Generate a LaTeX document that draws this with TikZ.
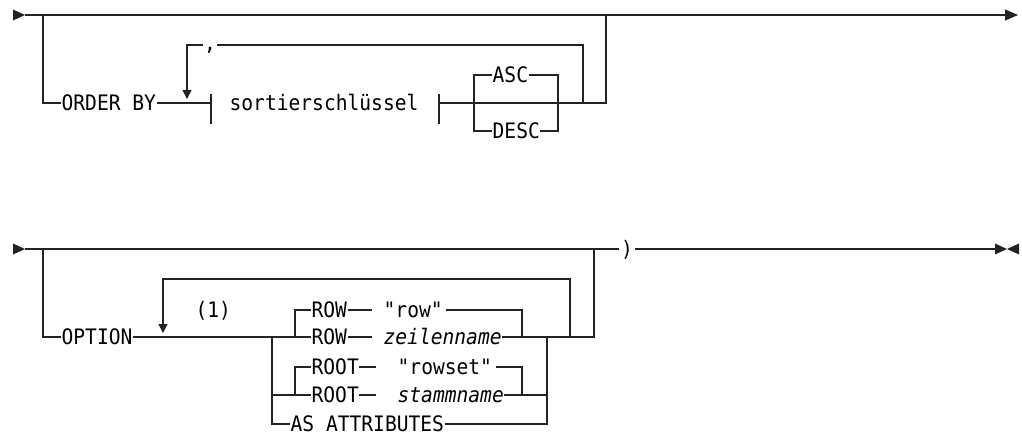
\documentclass[tikz,border=0pt]{standalone}
\usepackage{fontspec}
\newfontfamily\dmono[FakeStretch=0.92]{DejaVu Sans Mono}
\usetikzlibrary{arrows.meta}
\definecolor{ink}{RGB}{35,35,35}
\begin{document}
\begin{tikzpicture}[x=1pt,y=-1pt,line width=1.3pt,draw=ink,fill=ink,
  kw/.style={anchor=west,inner sep=0pt,font=\dmono\fontsize{21.3pt}{24pt}\selectfont,text height=15.5pt,text depth=0pt,text=black},
  var/.style={kw,font=\dmono\itshape\fontsize{21.3pt}{24pt}\selectfont},
  loopar/.style={-{Triangle[length=9pt,width=9pt]}},
  mainar/.style={-{Triangle[length=13pt,width=11pt]}}]
\useasboundingbox (0,0) rectangle (1022,434);
% ---------- top diagram ----------
\fill[ink] (13,9.5) -- (25,15) -- (13,20.5) -- cycle;
\coordinate (s1) at (25,15);
\coordinate (e1) at (1018,15);
\draw[mainar] (s1) -- (e1);
\node[kw] (order) at (61,103) {ORDER BY};
\draw (43,15) -- (43,103) -- (order.west);
\coordinate (t1) at (211,103);
\draw (order.east) -- (t1);
\draw (211,94) -- (211,124);
\node[kw] (sk) at (229,103) {sortierschlüssel};
\coordinate (t2) at (439,103);
\draw (439,94) -- (439,124);
\coordinate (j1) at (606,103);
\draw (t2) -- (j1) -- (606,15);
\node[kw] (asc) at (492,75) {ASC};
\node[kw] (desc) at (492,131) {DESC};
\draw (asc.west) -- (474,75) -- (474,131) -- (desc.west);
\draw (asc.east) -- (558,75) -- (558,131) -- (desc.east);
\node[kw,anchor=center] (comma) at (210,43) {,};
\coordinate (lr) at (583,45);
\coordinate (ll) at (187,45);
\draw (583,103) -- (lr) -- (lr -| comma.east);
\draw[loopar] (ll -| comma.west) -- (ll) -- (187,99);
% ---------- bottom diagram ----------
\fill[ink] (13,243.5) -- (25,249) -- (13,254.5) -- cycle;
\node[kw,anchor=center,inner xsep=1pt] (rp) at (627,249) {)};
\draw (25,249) -- (rp.west);
\draw (rp.east) -- (995,249);
\fill[ink] (995,243.5) -- (1007,249) -- (995,254.5) -- cycle;
\fill[ink] (1019,243.5) -- (1007,249) -- (1019,254.5) -- cycle;
\node[kw] (opt) at (61,337) {OPTION};
\draw (43,249) -- (43,337) -- (opt.west);
\node[kw] (one) at (195,310) {(1)};
\draw[loopar] (570,337) -- (570,279) -- (163,279) -- (163,333);
\node[kw] (row1) at (311,310) {ROW};
\node[kw] (rowq) at (383,310) {{\itshape"}row{\itshape"}};
\node[kw] (row2) at (311,337) {ROW};
\node[var] (zeil) at (383,337) {zeilenname};
\node[kw] (root1) at (311,367) {ROOT};
\node[kw] (rowset) at (397,367) {{\itshape"}rowset{\itshape"}};
\node[kw] (root2) at (311,395) {ROOT};
\node[var] (stamm) at (397,395) {stammname};
\node[kw] (asattr) at (290,424) {AS ATTRIBUTES};
\draw (opt.east) -- (row2.west);
\draw (row2.east) -- ++(24,0);
\draw (zeil.east) -- (594,337) -- (594,249);
\draw (row1.west) -- (295,310) -- (295,337);
\draw (row1.east) -- ++(24,0);
\draw (rowq.east) ++(3,0) -- (522,310) -- (522,337);
\draw (272,337) -- (272,424) -- (asattr.west);
\draw (272,395) -- (root2.west);
\draw (root1.west) -- (295,367) -- (295,395);
\draw (root1.east) -- ++(17,0);
\draw (root2.east) -- ++(17,0);
\draw (rowset.east) ++(3,0) -- (522,367) -- (522,395);
\draw (stamm.east) -- (547,395);
\draw (asattr.east) -- (547,424) -- (547,337);
\end{tikzpicture}
\end{document}
